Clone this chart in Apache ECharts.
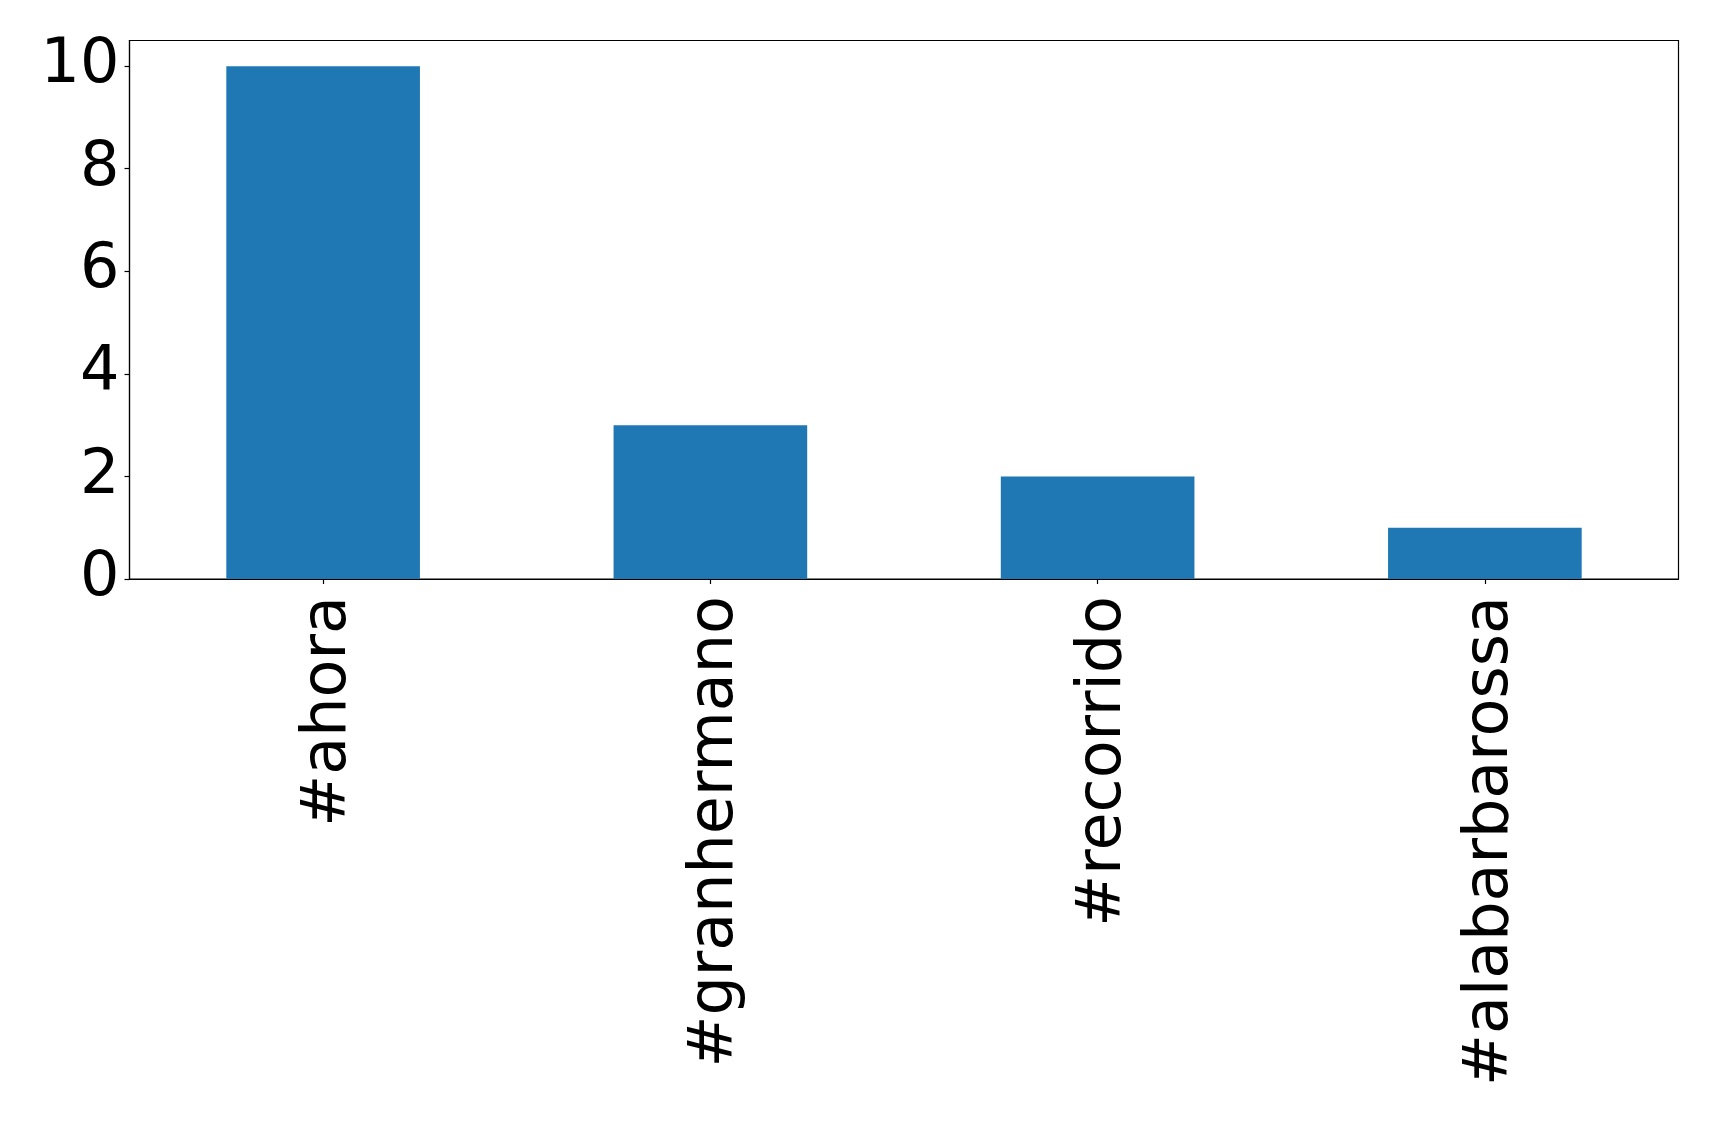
<!DOCTYPE html>
<html>
<head>
<meta charset="utf-8">
<script src="https://cdn.jsdelivr.net/npm/echarts@6/dist/echarts.min.js"></script>
<style>
html,body{margin:0;padding:0;background:#fff;}
#chart{width:1719px;height:1122px;}
</style>
</head>
<body>
<div id="chart"></div>
<script>
const categories = ['#ahora', '#granhermano', '#recorrido', '#alabarbarossa'];
const counts = [10, 3, 2, 1];
const yTicks = [0, 2, 4, 6, 8, 10];

const chart = echarts.init(document.getElementById('chart'), null, {renderer: 'canvas'});
const font = 'DejaVu Sans';
chart.setOption({
  animation: false,
  backgroundColor: '#ffffff',
  grid: {
    left: 129.5, right: 40.5, top: 40.5, bottom: 543,
    show: true, borderColor: '#000', borderWidth: 1.2, backgroundColor: 'transparent'
  },
  xAxis: {
    type: 'category',
    data: categories,
    axisLine: {show: true, lineStyle: {color: '#000', width: 1.2}},
    axisTick: {show: true, alignWithLabel: true, length: 5, lineStyle: {color: '#000', width: 1.2}},
    axisLabel: {rotate: 90, fontFamily: font, fontSize: 62, color: '#000', margin: 17, interval: 0,
      verticalAlign: 'top', lineHeight: 12}
  },
  yAxis: {
    type: 'value',
    min: 0, max: 10.5, interval: 2,
    axisLine: {show: true, lineStyle: {color: '#000', width: 1.2}},
    axisTick: {show: true, length: 5, lineStyle: {color: '#000', width: 1.2}},
    splitLine: {show: false},
    axisLabel: {
      fontFamily: font, fontSize: 62, color: '#000', margin: 10, showMaxLabel: false,
      formatter: v => (yTicks.indexOf(v) >= 0 ? String(v) : '')
    }
  },
  series: [{
    type: 'bar',
    data: counts,
    barWidth: '50%',
    itemStyle: {color: '#1f77b4'}
  }]
});
</script>
</body>
</html>
